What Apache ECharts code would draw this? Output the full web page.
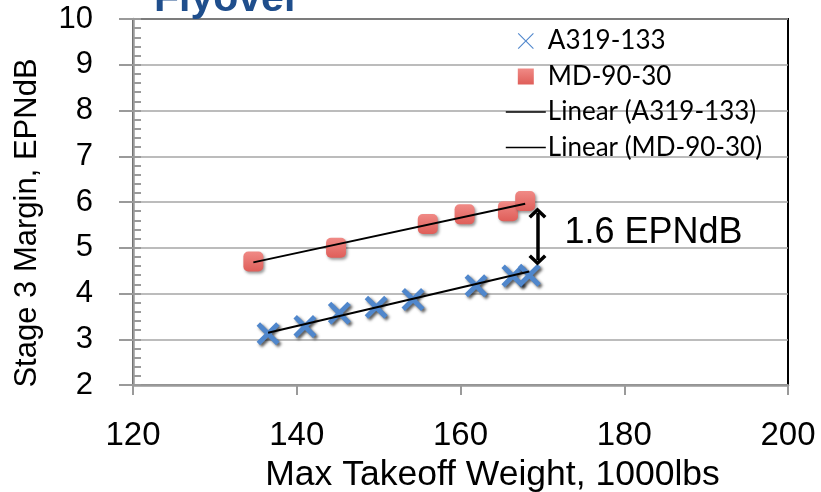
<!DOCTYPE html>
<html><head><meta charset="utf-8">
<script src="https://cdn.jsdelivr.net/npm/echarts@6/dist/echarts.min.js"></script>
<style>html,body{margin:0;padding:0;background:#fff}#c{width:821px;height:492px}</style>
</head><body><div id="c"></div>
<script>
// ---- data ----
const titleText = 'Flyover';
const xAxisName = 'Max Takeoff Weight, 1000lbs';
const yAxisName = 'Stage 3 Margin, EPNdB';
const seriesNames = ['A319-133', 'MD-90-30', 'Linear (A319-133)', 'Linear (MD-90-30)'];
const a319X = [136.5, 141.0, 145.2, 149.7, 154.2, 161.9, 166.4, 168.4];
const a319Y = [3.12, 3.28, 3.57, 3.70, 3.87, 4.17, 4.38, 4.40];
const md90X = [134.7, 144.8, 156.0, 160.5, 165.8, 167.9];
const md90Y = [4.70, 5.00, 5.52, 5.73, 5.80, 6.02];
const trendA319X = [136.5, 168.4];
const trendA319Y = [3.14, 4.48];
const trendMD90X = [134.7, 167.9];
const trendMD90Y = [4.68, 5.96];
const gapX = 169.4;
const gapY = [5.76, 4.73];
const gapLabel = '1.6 EPNdB';
const gapLabelY = 5.33;
const xMin = 120, xMax = 200, xStep = 20;
const yMin = 2, yMax = 10, yStep = 1, yMinorStep = 0.2;

const zip = (xs, ys) => xs.map((x, i) => [x, ys[i]]);

const crossPath = 'path://M3,0 L10,7 L17,0 L20,3 L13,10 L20,17 L17,20 L10,13 L3,20 L0,17 L7,10 L0,3 Z';
const thinCross = 'path://M1,0 L10,9 L19,0 L20,1 L11,10 L20,19 L19,20 L10,11 L1,20 L0,19 L9,10 L0,1 Z';
const squarePath = 'path://M0,0 L10,0 L10,10 L0,10 Z';
const chevron = 'path://M0,9 L9,0 L18,9 L15.5,11.5 L9,5 L2.5,11.5 Z';

const axisGray = '#9a9a9a';
const hiddenSymbol = { color: 'transparent', opacity: 0, borderWidth: 0 };
const chart = echarts.init(document.getElementById('c'));
chart.setOption({
  animation: false,
  backgroundColor: '#fff',
  title: {
    text: titleText, left: 154, top: -21, padding: 0,
    textStyle: { fontFamily: 'Liberation Sans', fontSize: 41, fontWeight: 'bold', color: '#1F4E8C' }
  },
  grid: { left: 133, right: 33, top: 19, bottom: 107, outerBoundsMode: 'none', containLabel: false,
    show: true, borderColor: '#000', borderWidth: 2, backgroundColor: 'transparent' },
  legend: {
    orient: 'vertical', left: 505, top: 28, padding: 0, itemGap: 9.5,
    itemWidth: 40, itemHeight: 16,
    itemStyle: { shadowBlur: 0, shadowOffsetX: 0, shadowOffsetY: 0, shadowColor: 'transparent' },
    lineStyle: { width: 1.6, color: '#000' },
    textStyle: { fontFamily: 'Lato', fontSize: 26, color: '#000', padding: [0, 0, 0, -3] },
    data: [
      { name: seriesNames[0], icon: thinCross },
      { name: seriesNames[1], icon: squarePath },
      { name: seriesNames[2], itemStyle: hiddenSymbol },
      { name: seriesNames[3], itemStyle: hiddenSymbol }
    ]
  },
  xAxis: {
    type: 'value', min: xMin, max: xMax, interval: xStep,
    name: xAxisName, nameLocation: 'middle', nameGap: 62,
    nameTextStyle: { fontFamily: 'Liberation Sans', fontSize: 35.5, color: '#000', padding: [0, 0, 0, 64] },
    axisLine: { show: true, lineStyle: { color: axisGray, width: 2.5 } },
    axisTick: { show: true, inside: false, length: 10, lineStyle: { color: axisGray, width: 2 } },
    axisLabel: { fontFamily: 'Liberation Sans', fontSize: 33, color: '#000', margin: 34 },
    splitLine: { show: false }
  },
  yAxis: [{
    type: 'value', min: yMin, max: yMax, interval: yStep,
    name: yAxisName, nameLocation: 'middle', nameGap: 90,
    nameTextStyle: { fontFamily: 'Liberation Sans', fontSize: 31, color: '#000', padding: [0, 42, 0, 0] },
    axisLine: { show: true, lineStyle: { color: axisGray, width: 2.5 } },
    axisTick: { show: true, inside: false, length: 14, lineStyle: { color: axisGray, width: 2 } },
    axisLabel: { fontFamily: 'Liberation Sans', fontSize: 31, color: '#000', margin: 40 },
    splitLine: { show: true, lineStyle: { color: '#a6a6a6', width: 1.6 } }
  }, {
    type: 'value', min: yMin, max: yMax, interval: yMinorStep, position: 'left',
    axisLine: { show: false },
    axisTick: { show: true, inside: true, length: 8, lineStyle: { color: axisGray, width: 2 } },
    axisLabel: { show: false },
    splitLine: { show: false }
  }],
  series: [
    {
      name: seriesNames[0], type: 'scatter', z: 3,
      symbol: crossPath, symbolSize: 23,
      itemStyle: { color: '#5087CC', opacity: 1, shadowBlur: 3, shadowOffsetX: 2, shadowOffsetY: 2, shadowColor: 'rgba(0,0,0,0.65)' },
      data: zip(a319X, a319Y)
    },
    {
      name: seriesNames[1], type: 'scatter', z: 3,
      symbol: 'roundRect', symbolSize: 20,
      itemStyle: {
        opacity: 1,
        color: new echarts.graphic.LinearGradient(0, 0, 0, 1, [{ offset: 0, color: '#F08A86' }, { offset: 1, color: '#DF5E59' }]),
        shadowBlur: 3, shadowOffsetX: 1.5, shadowOffsetY: 2, shadowColor: 'rgba(0,0,0,0.4)'
      },
      data: zip(md90X, md90Y)
    },
    {
      name: seriesNames[2], type: 'line', z: 4, symbol: 'none', showSymbol: false,
      lineStyle: { color: '#000', width: 2 }, itemStyle: { color: '#000' },
      data: zip(trendA319X, trendA319Y)
    },
    {
      name: seriesNames[3], type: 'line', z: 4, symbol: 'none', showSymbol: false,
      lineStyle: { color: '#000', width: 2 }, itemStyle: { color: '#000' },
      data: zip(trendMD90X, trendMD90Y)
    },
    {
      name: 'gap', type: 'scatter', z: 5, silent: true,
      symbolSize: 0, itemStyle: { opacity: 1, color: '#000' },
      label: { show: true, position: 'right', distance: 27, formatter: gapLabel, opacity: 1,
        fontFamily: 'Liberation Sans', fontSize: 36, color: '#000' },
      data: [[gapX, gapLabelY]],
      markLine: {
        silent: true, animation: false,
        symbol: [chevron, chevron], symbolSize: [18, 11],
        label: { show: false },
        lineStyle: { color: '#000', width: 3.5, type: 'solid', opacity: 1 },
        itemStyle: { color: '#000' },
        data: [[{ coord: [gapX, gapY[0]] }, { coord: [gapX, gapY[1]] }]]
      }
    }
  ]
});
</script></body></html>
